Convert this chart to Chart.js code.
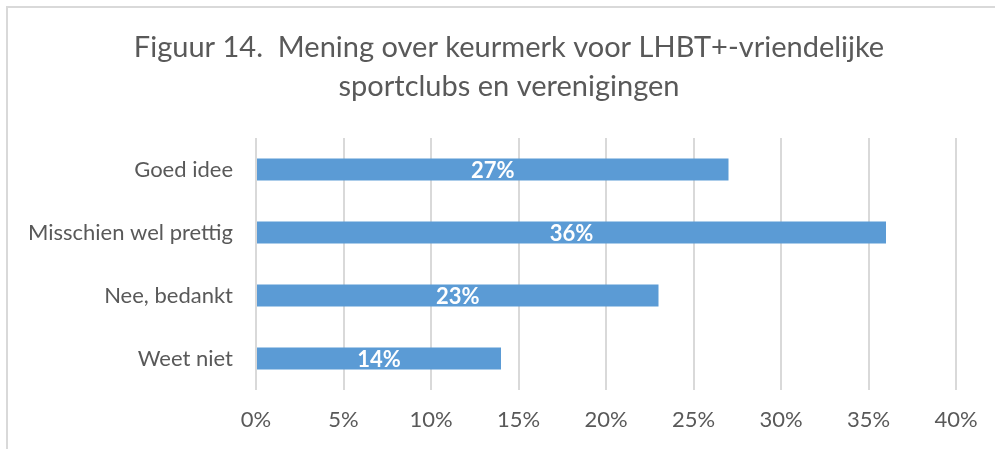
<!DOCTYPE html>
<html><head><meta charset="utf-8">
<script src="https://cdn.jsdelivr.net/npm/chart.js@4"></script>
<style>html,body{margin:0;padding:0;background:#fff}#wrap{width:995px;height:449px;position:relative}</style>
</head><body><div id="wrap"><canvas id="c" width="995" height="449"></canvas></div>
<script>
const categories = ["Goed idee", "Misschien wel prettig", "Nee, bedankt", "Weet niet"];
const values = [27, 36, 23, 14];
const xTicks = [0, 5, 10, 15, 20, 25, 30, 35, 40];
const titleLines = ["Figuur 14.  Mening over keurmerk voor LHBT+-vriendelijke", "sportclubs en verenigingen"];

const FONT = "Lato, 'Open Sans', sans-serif";
const TXT = "#595959";

const frame = {
  id: "frame",
  beforeDraw(chart) {
    const ctx = chart.ctx;
    ctx.save();
    ctx.fillStyle = "#fff";
    ctx.fillRect(0, 0, chart.width, chart.height);
    ctx.strokeStyle = "#D9D9D9";
    ctx.lineWidth = 2;
    ctx.beginPath();
    ctx.moveTo(7, chart.height);
    ctx.lineTo(7, 7);
    ctx.lineTo(chart.width, 7);
    ctx.stroke();
    ctx.restore();
  }
};
const titleShift = {
  id: "titleShift",
  afterLayout(chart) {
    const t = chart.titleBlock;
    if (t) { t.left += 27; t.right += 27; }
  }
};
const barLabels = {
  id: "barLabels",
  afterDatasetsDraw(chart) {
    const ctx = chart.ctx;
    const meta = chart.getDatasetMeta(0);
    ctx.save();
    ctx.fillStyle = "#fff";
    ctx.font = "bold 22px " + FONT;
    ctx.textAlign = "center";
    ctx.textBaseline = "middle";
    meta.data.forEach((el, i) => {
      const cx = (el.x + el.base) / 2;
      ctx.fillText(values[i] + "%", cx, el.y + 1);
    });
    ctx.restore();
  }
};

new Chart(document.getElementById("c"), {
  type: "bar",
  data: {
    labels: categories,
    datasets: [{
      data: values,
      backgroundColor: "#5B9BD5",
      borderWidth: 0,
      barPercentage: 0.35,
      categoryPercentage: 1
    }]
  },
  options: {
    indexAxis: "y",
    responsive: false,
    animation: false,
    devicePixelRatio: 1,
    layout: { padding: { left: 8, right: 39, top: 28, bottom: 0 } },
    plugins: {
      legend: { display: false },
      tooltip: { enabled: false },
      title: {
        display: true,
        text: titleLines,
        color: TXT,
        font: { family: FONT, size: 29, weight: "normal", lineHeight: 1.345 },
        padding: { top: 0, bottom: 32 }
      }
    },
    scales: {
      x: {
        min: 0, max: 40,
        afterBuildTicks(axis) { axis.ticks = xTicks.map(v => ({ value: v })); },
        afterFit(axis) { axis.height = 59; },
        ticks: {
          color: TXT,
          font: { family: FONT, size: 22 },
          padding: 17,
          maxRotation: 0,
          callback: v => v + "%"
        },
        grid: { color: "#D9D9D9", lineWidth: 2, drawTicks: false },
        border: { display: false }
      },
      y: {
        afterFit(axis) { axis.width = 248; },
        ticks: {
          color: TXT,
          font: { family: FONT, size: 22 },
          padding: 23
        },
        grid: { display: false, drawTicks: false },
        border: { display: false }
      }
    }
  },
  plugins: [frame, titleShift, barLabels]
});
</script></body></html>
